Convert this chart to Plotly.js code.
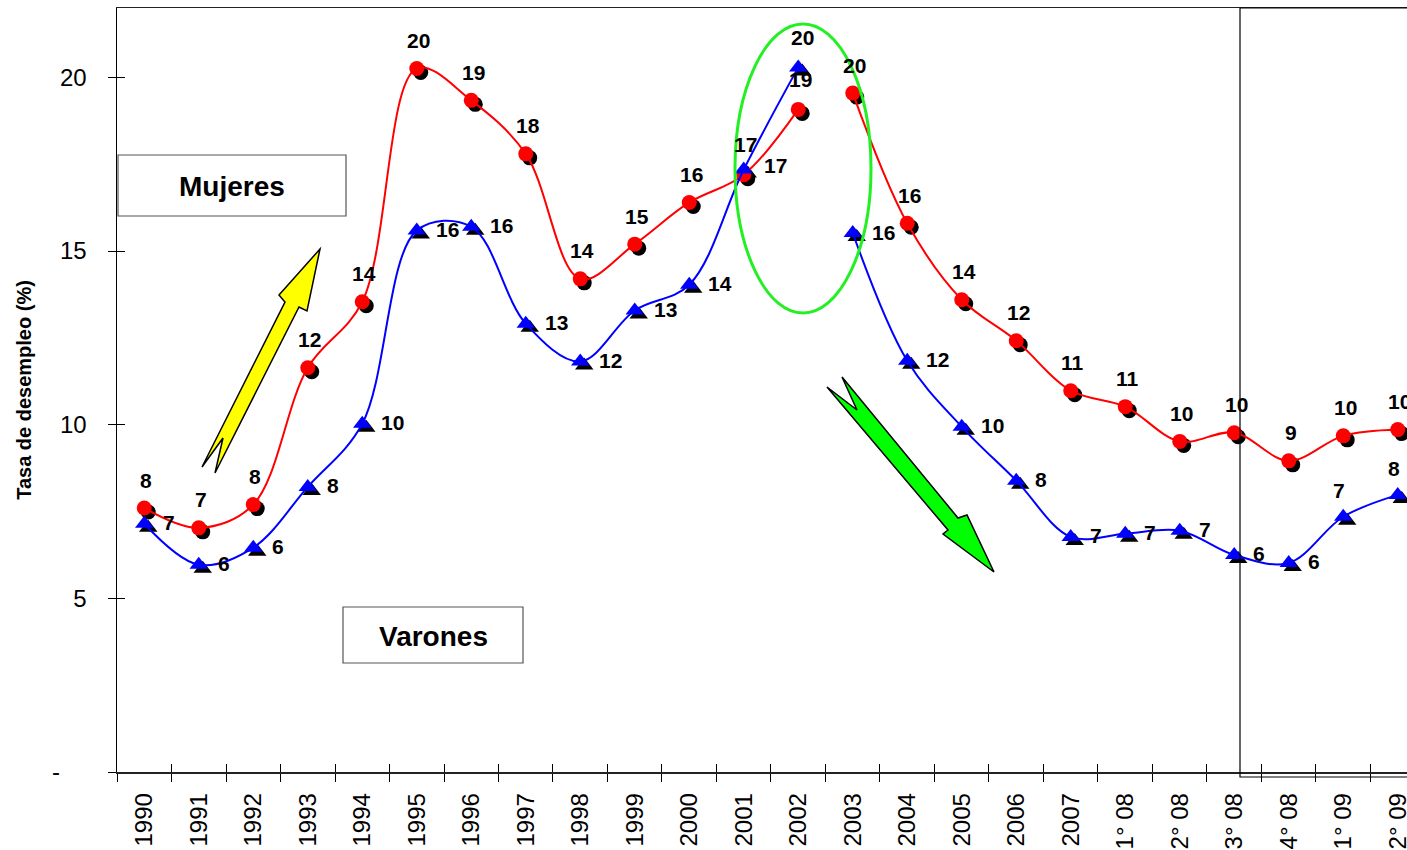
<!DOCTYPE html>
<html>
<head>
<meta charset="utf-8">
<script src="https://cdn.plot.ly/plotly-3.0.1.min.js"></script>
<style>html,body{margin:0;padding:0;background:#fff;}#chart{width:1407px;height:850px;}</style>
</head>
<body>
<div id="chart"></div>
<script>
// ---- data ----
const periodos = ['1990','1991','1992','1993','1994','1995','1996','1997','1998','1999','2000','2001','2002','2003','2004','2005','2006','2007','1° 08','2° 08','3° 08','4° 08','1° 09','2° 09'];
const mujeres = [7.6, 7.03, 7.7, 11.64, 13.54, 20.26, 19.34, 17.8, 14.2, 15.2, 16.4, 17.2, 19.08, 19.55, 15.8, 13.6, 12.42, 10.98, 10.52, 9.52, 9.77, 8.96, 9.68, 9.86];
const varones = [7.15, 5.97, 6.46, 8.21, 10.03, 15.59, 15.7, 12.91, 11.82, 13.29, 14.03, 17.35, 20.29, 15.52, 11.84, 9.94, 8.39, 6.77, 6.86, 6.95, 6.25, 6.02, 7.35, 7.98];
const yTickVals = [0, 5, 10, 15, 20];
const yTickText = ['-\u00a0\u00a0\u00a0\u00a0', '5', '10', '15', '20'];
const corte = 13; // the line is broken between 2002 and 2003

// ---- geometry helpers (layout only) ----
const W = 1407, H = 850, ML = 117, MT = 8, MB = 78, MR = 0;
const PW = W - ML - MR, PH = H - MT - MB;
const XR = [-0.5, 23.17], YR = [0, 22];
const pxPerX = PW / (XR[1] - XR[0]), pxPerY = PH / (YR[1] - YR[0]);
const SH = 4; // shadow offset px
const fx = p => (p - ML) / PW;
const fy = p => (H - MB - p) / PH;
const path = pts => 'M' + pts.map(p => fx(p[0]).toFixed(5) + ',' + fy(p[1]).toFixed(5)).join(' L') + ' Z';

const FONT = 'Arial, "Liberation Sans", sans-serif';
const idx = periodos.map((_, i) => i);

const traces = [
  // invisible trace anchoring the base (visible) axes
  {x: periodos, y: mujeres, xaxis: 'x', yaxis: 'y', mode: 'markers', type: 'scatter',
   marker: {size: 1, opacity: 0}, hoverinfo: 'skip', showlegend: false},
  // black "shadow" markers, drawn on a frame shifted a few px right/down
  {x: periodos, y: mujeres, xaxis: 'x2', yaxis: 'y2', mode: 'markers', type: 'scatter',
   marker: {symbol: 'circle', size: 15, color: '#000'}, hoverinfo: 'skip', showlegend: false},
  {x: periodos, y: varones, xaxis: 'x2', yaxis: 'y2', mode: 'markers', type: 'scatter',
   marker: {symbol: 'triangle-up', size: 16, color: '#000'}, hoverinfo: 'skip', showlegend: false}
];
// main series, in two segments each
[[0, corte], [corte, periodos.length]].forEach(([a, b]) => {
  traces.push({x: periodos.slice(a, b), y: mujeres.slice(a, b), xaxis: 'x3', yaxis: 'y3',
    mode: 'lines+markers', type: 'scatter', name: 'Mujeres',
    line: {color: '#ff0000', width: 2, shape: 'spline', smoothing: 1},
    marker: {symbol: 'circle', size: 15, color: '#ff0000'}, showlegend: false});
  traces.push({x: periodos.slice(a, b), y: varones.slice(a, b), xaxis: 'x3', yaxis: 'y3',
    mode: 'lines+markers', type: 'scatter', name: 'Varones',
    line: {color: '#0000ff', width: 2, shape: 'spline', smoothing: 1},
    marker: {symbol: 'triangle-up', size: 16, color: '#0000ff'}, showlegend: false});
});

// ---- value labels ----
const labelFont = {family: FONT, size: 21, color: '#000'};
const annotations = [];
mujeres.forEach((v, i) => {
  let a = {x: idx[i], y: v, xref: 'x3', yref: 'y3', text: '<b>' + Math.round(v) + '</b>',
    showarrow: false, font: labelFont, xanchor: 'center', yanchor: 'middle', xshift: 2, yshift: 28};
  if (i === 11) { a.xanchor = 'left'; a.xshift = 18; a.yshift = 9; }
  if (i === 12) { a.yshift = 30; }
  annotations.push(a);
});
varones.forEach((v, i) => {
  let a = {x: idx[i], y: v, xref: 'x3', yref: 'y3', text: '<b>' + Math.round(v) + '</b>',
    showarrow: false, font: labelFont, xanchor: 'left', yanchor: 'middle', xshift: 17, yshift: 1};
  if (i === 11) { a.xanchor = 'center'; a.xshift = 2; a.yshift = 25; }
  if (i === 12) { a.xanchor = 'center'; a.xshift = 4; a.yshift = 30; }
  if (i === 22 || i === 23) { a.xanchor = 'center'; a.xshift = -4; a.yshift = 26; }
  annotations.push(a);
});
annotations.push({xref: 'paper', yref: 'paper', x: fx(232), y: fy(186), text: '<b>Mujeres</b>', showarrow: false,
  font: {family: FONT, size: 28, color: '#000'}, xanchor: 'center', yanchor: 'middle'});
annotations.push({xref: 'paper', yref: 'paper', x: fx(433), y: fy(636), text: '<b>Varones</b>', showarrow: false,
  font: {family: FONT, size: 28, color: '#000'}, xanchor: 'center', yanchor: 'middle'});

const shapes = [
  {type: 'rect', xref: 'paper', yref: 'paper', x0: fx(118), x1: fx(346), y0: fy(216), y1: fy(155),
   line: {color: '#555', width: 1.2}, fillcolor: 'rgba(0,0,0,0)'},
  {type: 'rect', xref: 'paper', yref: 'paper', x0: fx(343), x1: fx(523), y0: fy(663), y1: fy(607),
   line: {color: '#555', width: 1.2}, fillcolor: 'rgba(0,0,0,0)'},
  {type: 'rect', xref: 'paper', yref: 'paper', x0: fx(1240), x1: fx(1420), y0: fy(777), y1: fy(8),
   line: {color: '#000', width: 1.2}, fillcolor: 'rgba(0,0,0,0)'},
  {type: 'circle', xref: 'paper', yref: 'paper', x0: fx(735), x1: fx(871), y0: fy(313), y1: fy(24),
   line: {color: '#22f022', width: 3}, fillcolor: 'rgba(0,0,0,0)'},
  {type: 'path', xref: 'paper', yref: 'paper',
   path: path([[320,249],[307,311],[299,307],[215,473],[223,438],[202,467],[285,302],[279,295]]),
   fillcolor: '#ffff00', line: {color: '#000', width: 1.5}},
  {type: 'path', xref: 'paper', yref: 'paper',
   path: path([[842,377],[958,518],[967,515],[994,572],[943,534],[948,530],[827,387],[857,410]]),
   fillcolor: '#00ff00', line: {color: '#000', width: 1.5}}
];

const catAxisBase = {type: 'category', categoryorder: 'array', categoryarray: periodos};
const layout = {
  width: W, height: H,
  margin: {l: ML, r: MR, t: MT, b: MB, pad: 0},
  paper_bgcolor: '#fff', plot_bgcolor: '#fff',
  showlegend: false,
  font: {family: FONT, color: '#000'},
  xaxis: Object.assign({}, catAxisBase, {
    range: XR, tickson: 'boundaries', ticks: 'outside', ticklen: 8, tickwidth: 1, tickcolor: '#000',
    showline: true, linecolor: '#222', linewidth: 1.5, mirror: true, showgrid: false, zeroline: false,
    tickangle: -90, tickfont: {family: FONT, size: 24, color: '#000'}, ticklabelstandoff: 10
  }),
  yaxis: {
    range: YR, tickmode: 'array', tickvals: yTickVals, ticktext: yTickText,
    ticks: 'outside', ticklen: 8, tickwidth: 1, tickcolor: '#000',
    showline: true, linecolor: '#000', linewidth: 1.5, showgrid: false, zeroline: false,
    tickfont: {family: FONT, size: 24, color: '#000'}, ticklabelstandoff: 16,
    title: {text: '<b>Tasa de desempleo (%)</b>', font: {family: FONT, size: 20, color: '#000'}, standoff: 15}
  },
  xaxis2: Object.assign({}, catAxisBase, {
    overlaying: 'x', range: [XR[0] - SH / pxPerX, XR[1] - SH / pxPerX], visible: false
  }),
  yaxis2: {overlaying: 'y', range: [YR[0] + SH / pxPerY, YR[1] + SH / pxPerY], visible: false},
  xaxis3: Object.assign({}, catAxisBase, {
    overlaying: 'x', range: XR, tickson: 'boundaries', ticks: 'inside', ticklen: 8, tickwidth: 1, tickcolor: '#000',
    showticklabels: false, showline: false, showgrid: false, zeroline: false
  }),
  yaxis3: {
    overlaying: 'y', range: YR, tickmode: 'array', tickvals: yTickVals, ticks: 'inside', ticklen: 8, tickwidth: 1,
    tickcolor: '#000', showticklabels: false, showline: false, showgrid: false, zeroline: false
  },
  annotations: annotations,
  shapes: shapes
};

Plotly.newPlot('chart', traces, layout, {staticPlot: true, displayModeBar: false});
</script>
</body>
</html>
